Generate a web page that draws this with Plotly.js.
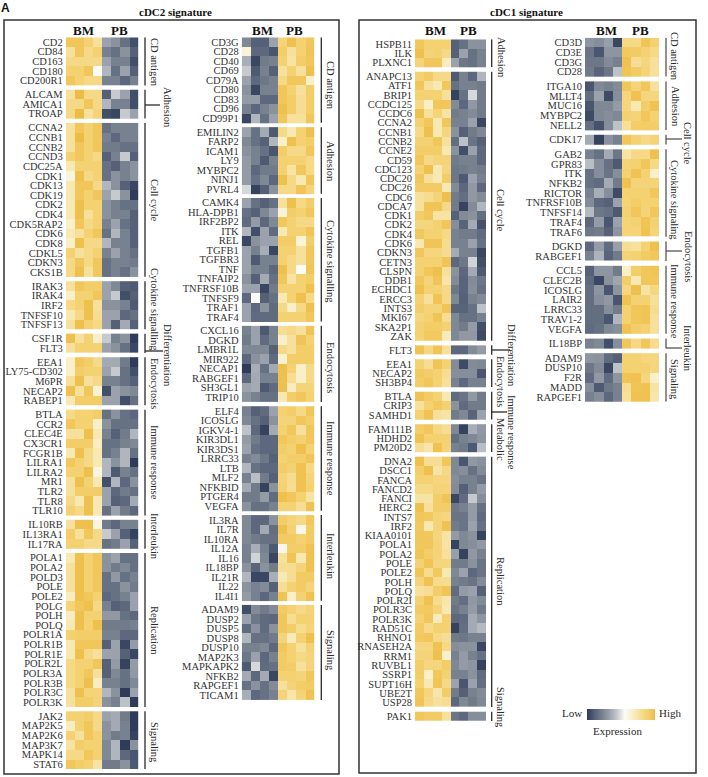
<!DOCTYPE html>
<html><head><meta charset="utf-8">
<script src="https://cdn.plot.ly/plotly-3.0.1.min.js"></script>
<style>html,body{margin:0;padding:0;background:#fff}#c{width:708px;height:777px}</style>
</head><body><div id="c"></div><script>
// ---------- cDC2, first column ----------
const a1Genes=["CD2","CD84","CD163","CD180","CD200R1"];
const a1Z=[[3.5,3.5,3,2,-2,-2.5,-3.5,-4.5],[2,3.5,2.5,3,-3,-3.5,-2.5,-4],[2.5,2.5,2.5,2.5,-2,-3,-3,-4.5],[3,3,3.5,0,-1.5,-3.5,-2,-4],[3.5,3,2.5,2.5,-3,-3,-3.8,-3]];
const a2Genes=["ALCAM","AMICA1","TROAP"];
const a2Z=[[2,4,2.5,2.5,-4,-1,-2,-4.5],[2.5,2.5,3.5,2.5,-1.5,-3,-3,-4.5],[2.5,4,2,2.8,-4.5,-4.7,-1,-2]];
const a3Genes=["CCNA2","CCNB1","CCNB2","CCND3","CDC25A","CDK1","CDK13","CDK19","CDK2","CDK4","CDK5RAP2","CDK6","CDK8","CDKL5","CDKN3","CKS1B"];
const a3Z=[[2,3.5,3,3.5,-3.5,-3,-3,-3],[2,4,3,3.5,-3,-3.8,-3,-3],[2,3.5,3,3.5,-3.2,-3.2,-3.5,-3.5],[3,3.5,3,2.5,-4,-3,-1,-4],[1.5,3,3,3,-3.5,-4,-3,-2.5],[.5,3.8,2.5,3,-3.5,-2.5,-3,-2.5],[1.5,3.5,3.5,2.5,-1.5,-2.5,-4,-4.7],[1.5,3.5,3,3.5,-2,-1,-2.5,-5],[1.5,3.8,3,3,-2.5,-3,-3.5,-3.5],[1.5,3.8,2,3,-2.5,-3,-3,-4],[1,3.5,2.5,3,-3,-2,-3.5,-4],[1.5,2,3,3.5,-3.5,-1.5,-3,-4],[1,3.8,2.5,2.5,-1.5,-3,-3,-4],[3,2,2.5,3,-3,-2,-3,-3.5],[2.5,3.5,2.5,3.5,-3.5,-3,-3,-3.2],[2.5,3.8,2,3.5,-3.5,-3,-3.5,-2.5]];
const a4Genes=["IRAK3","IRAK4","IRF2","TNFSF10","TNFSF13"];
const a4Z=[[2,3.5,3.2,3.2,-2,-2.8,-4,-4.2],[1,3,3,3.5,-2,-1,-4.5,-4],[2.5,3,3.8,2,-2.5,-2.5,-3,-4.2],[1.5,2.5,3.8,2.2,-2,-2,-3.8,-3.5],[2,3.8,3,2.5,-2,-4,-1.8,-4]];
const a5Genes=["CSF1R","FLT3"];
const a5Z=[[3.8,2,3,1,-1,-3,-2.5,-5],[2,3,3,3,-2,-2.5,-3.5,-4.7]];
const a6Genes=["EEA1","LY75-CD302","M6PR","NECAP2","RABEP1"];
const a6Z=[[1,3.5,3.2,2.5,-1.8,-1.8,-3.2,-5],[1,3.2,3,3,-2,-1,-3.5,-4.5],[2,3.8,2,2.5,-3,-3,-3.5,-4],[3.8,2,3.5,.8,-4.5,-2,-2.5,-2.8],[1.5,3.2,3.2,3.2,-2,-2,-4.5,-3.5]];
const a7Genes=["BTLA","CCR2","CLEC4E","CX3CR1","FCGR1B","LILRA1","LILRA2","MR1","TLR2","TLR8","TLR10"];
const a7Z=[[2.5,3,3,3.2,-3.5,-2.5,-3.5,-3.8],[3.5,3,3,1,-2.5,-3.5,-3.5,-3.5],[2,2,3.8,1.5,-3,-4,-3.2,-1.5],[3.2,3.2,3.2,1.2,-3.5,-3.5,-3,-2.8],[1.5,3.8,2.5,1.5,-3.5,-3,-1.5,-3.5],[3.5,3,2.5,1.5,-1.5,-2.5,-1.5,-5],[3,3,3.8,.5,-1.5,-4.2,-3,-3.5],[2,3.8,3,1.5,-4.5,-1.5,-3.8,-2.5],[2,3.2,3.2,3.2,-2,-3.8,-3.2,-3.5],[2.5,1.5,3.8,1.5,-2,-4,-3.8,-1.8],[3,2.5,3.8,1.5,-3.5,-2,-3.2,-3.8]];
const a8Genes=["IL10RB","IL13RA1","IL17RA"];
const a8Z=[[2,3.8,3.8,.5,-3.2,-3.8,-3,-3],[3.2,2,3.5,2.5,-1,-2,-4,-4.8],[3,3,2.5,2.5,-3.5,-3.2,-2,-4]];
const a9Genes=["POLA1","POLA2","POLD3","POLE","POLE2","POLG","POLH","POLQ","POLR1A","POLR1B","POLR1E","POLR2L","POLR3A","POLR3B","POLR3C","POLR3K"];
const a9Z=[[1.5,3.8,3,3.5,-2.5,-2,-3.5,-3.5],[2,3.8,3,3.5,-2.5,-3.2,-2.8,-3.5],[2,3.8,3,3.5,-3.5,-2.3,-3.5,-3],[2,3.8,3,3.5,-3.5,-3.5,-2.5,-3.2],[1.2,3.8,3.5,3,-3.8,-3.5,-3,-2],[2.8,3.5,3.8,2.5,-3,-4,-3.8,-2],[1.2,3.8,3,3,-2.3,-2.3,-3.5,-3.8],[1.5,3.8,3,3.8,-3.2,-3.2,-3.2,-3],[3,3.2,3.2,3.2,-3,-3,-3.8,-3.8],[1.5,3.5,3.5,3.5,-4,-2,-4.7,-2.2],[1.5,3.8,2.5,2,-2,-2,-4,-4.7],[2.5,3,3,3.5,-4,-2.2,-4.8,-2.2],[2.5,3,3.5,2,-4,-2.8,-3.5,-2.3],[2.5,3,3.8,1.2,-3,-3,-3.5,-2.8],[2,3.8,2.8,2.8,-1.5,-2.5,-5,-2],[2,3.2,3.2,2.8,-2.5,-3,-1.2,-5]];
const a10Genes=["JAK2","MAP2K5","MAP2K6","MAP3K7","MAPK14","STAT6"];
const a10Z=[[3,3,3.2,2.5,-2,-1.8,-3.2,-5],[1.2,3,3.5,2.5,-2.5,-1.8,-3,-5],[3,2,3.5,3,-2.5,-3.2,-3,-4.8],[1.8,3.2,3,3,-2.8,-1.5,-5,-2.5],[2.5,2.5,3.5,3,-2.8,-1.5,-3.8,-4.3],[3.5,3.2,3,1.8,-3.2,-3.2,-2.5,-4.2]];
// ---------- cDC2, second column ----------
const b1Genes=["CD3G","CD28","CD40","CD69","CD79A","CD80","CD83","CD96","CD99P1"];
const b1Z=[[-2.8,-4,-4,-2,2.8,3.8,3,3.5],[.7,-3.8,-3.8,-4.3,3.2,2,3,3.6],[-1.7,-4.7,-3.2,-3,3,1.8,3.2,3.5],[-1,-4.2,-3,-4,2,3,2,3.8],[-2,-3.8,-3.3,-3,2.5,3.5,3.5,1],[-2.5,-4.7,-3,-3,3.5,3,2,3.2],[-2.2,-2.2,-3.8,-3.8,3.5,3.2,2.2,3.2],[-3,-3.8,-3,-2.5,3.8,3.2,2.2,3.2],[-4.7,-1.5,-3.5,-2,3.5,2,2,3.5]];
const b2Genes=["EMILIN2","FARP2","ICAM1","LY9","MYBPC2","NINJ1","PVRL4"];
const b2Z=[[-2,-3.5,-1.8,-4.2,2.5,1.5,3,3.8],[-2.8,-3.5,-4,-1.5,1,3.8,3,3.2],[-2.5,-3,-3.5,-4.3,3.2,2.5,2.5,3.5],[-2.2,-3,-4.2,-3,3,3,3,2.5],[-2.2,-3.8,-3.2,-3.2,3,1.8,3.5,2.5],[-2.2,-3.5,-2.8,-3.8,3.8,2.5,1.5,3.5],[-.7,-4.8,-4,-2.5,2.5,2.5,3.6,2.8]];
const b3Genes=["CAMK4","HLA-DPB1","IRF2BP2","ITK","REL","TGFB1","TGFBR3","TNF","TNFAIP2","TNFRSF10B","TNFSF9","TRAF1","TRAF4"];
const b3Z=[[-2,-3.5,-4,-3.5,2,3.8,2.5,3.2],[-3.5,-4,-2.8,-2,.7,3.2,3,3.5],[-3.7,-2.2,-3.8,-2.8,3.5,3,2.5,2.5],[-1.5,-4.5,-2,-3.7,1.5,3,3,3.6],[-4.7,-2.5,-2,-2,3.2,3.2,.7,3.2],[-2,-3,-1.7,-4.7,3,3,2,3.5],[-2,-4.2,-3,-3,3,2.5,2,3.5],[-2,-3,-3,-3.8,3.8,2.5,0,3.6],[-2.5,-4,-1.8,-3.5,3.5,1.8,3,3.2],[-2,-2,-4.7,-3.2,3,3,3,3.8],[-3.8,0,-4,-3.5,1.5,3,3.8,2.5],[-2,-3.8,-2.5,-3.7,2.5,1,2.5,3.8],[-2,-3.7,-3.7,-3.7,3,3,3,3.5]];
const b4Genes=["CXCL16","DGKD","LMBR1L","MIR922","NECAP1","RABGEF1","SH3GL1","TRIP10"];
const b4Z=[[-3,-2,-4.2,-3,2.2,2.5,2,3.6],[-3.2,-2,-3.7,-3,1,2,3.6,3],[-2.8,-2.8,-2.8,-4,2.5,2,3.2,3.2],[-3.8,-2.5,-2,-3.7,.8,3.2,3.2,3.2],[-5,-1.7,-3.5,-1.8,3.8,3,1,2.5],[-3.8,-1.8,-3,-3,3.8,2.2,1,2.5],[-2,-1.8,-4.2,-3.7,3.8,1.2,2.8,2.8],[-2.5,-3,-3.5,-3.5,1.5,3.2,3.5,3]];
const b5Genes=["ELF4","ICOSLG","IGKV4-1","KIR3DL1","KIR3DS1","LRRC33","LTB","MLF2","NFKBID","PTGER4","VEGFA"];
const b5Z=[[-3,-4,-3.7,-2,3,3.2,2.5,3.5],[-2.8,-3.5,-4,-2.5,2.8,2.8,3.5,3.2],[-1.2,-3.8,-4.8,-1.8,3,3.5,2,3.5],[-2.2,-3.2,-3.8,-3.8,3.5,3.2,3,3.5],[-2,-3.5,-3.8,-3.8,3.2,3,3.8,3],[-3,-2.7,-3.3,-4,3,3.2,3.2,3.6],[-1.5,-3.5,-3.8,-3.8,3.2,3,3.7,2.5],[-3,-1.3,-3.2,-4,2.8,2.3,3.7,2.8],[-1.8,-3.2,-4.8,-2.5,3,2.2,3.7,3],[-3.2,-3.2,-2.2,-3.7,3.8,3.5,3,1.8],[-2.5,-3.5,-3.5,-3,3,3,2.2,3.7]];
const b6Genes=["IL3RA","IL7R","IL10RA","IL12A","IL16","IL18BP","IL21R","IL22","IL4I1"];
const b6Z=[[-2.8,-3.8,-3.8,-2.5,3.2,2.8,2.5,3.5],[-2.8,-3.8,-1.8,-3.6,3.8,3,.3,3.3],[-2.8,-3.2,-3.5,-3.5,3.3,3.3,3,3.3],[-3,-1.7,-3,-4.2,.3,3.2,3.2,3.7],[-3,-.8,-2.8,-4.7,2,3.6,1.5,3.7],[-2.5,-3.9,-2.5,-3.2,2.2,2.2,2.8,3.7],[-1.5,-4.7,-4.7,-1.7,1.5,2.2,3.3,3.3],[-2.5,-3,-2.7,-4,2.2,3,3.3,2.8],[-2.2,-3,-3.8,-3,3.7,1,3,3.7]];
const b7Genes=["ADAM9","DUSP2","DUSP5","DUSP8","DUSP10","MAP2K3","MAPKAPK2","NFKB2","RAPGEF1","TICAM1"];
const b7Z=[[-4.5,-2.7,-3.2,-2.7,3.3,3,2.5,2.8],[-2,-3.3,-3.7,-3.8,3.5,2.2,3,3],[-3.7,-2.5,-3.7,-2.5,3.5,3.2,2.3,2.8],[-1.5,-3.5,-3.5,-3.2,2.8,1.3,3,3.8],[-3,-3,-2.8,-3.8,3.5,3,2,3],[-3.3,-2,-3.8,-3,3.3,3,2.5,2.8],[-4.2,-.7,-3.7,-3.5,3.3,3.2,2,2.8],[-1.8,-3.8,-1.8,-4.7,3,3,2.8,3.5],[-3.5,-2.5,-3.5,-2.7,2,2.8,3.2,3.3],[-1.7,-3.8,-3.5,-3,2.8,1.7,2.8,3.7]];
// ---------- cDC1, first column ----------
const c1Genes=["HSPB11","ILK","PLXNC1"];
const c1Z=[[3.5,3,3,3,-4,-3.5,-2.5,-2.5],[3.8,2.8,3,2.5,-4,-2,-3.5,-3],[2.8,3.5,3.5,1.2,-2,-3.3,-3.5,-3]];
const c2Genes=["ANAPC13","ATF1","BRIP1","CCDC125","CCDC6","CCNA2","CCNB1","CCNB2","CCNE2","CD59","CDC123","CDC20","CDC26","CDC6","CDCA7","CDK1","CDK2","CDK4","CDK6","CDKN3","CETN3","CLSPN","DDB1","ECHDC1","ERCC3","INTS3","MKI67","SKA2P1","ZAK"];
const c2Z=[[3,3.3,2.5,2.5,-4.2,-3,-3.8,-1.5],[3.5,2,1.5,3.5,-3.5,-3,-3,-3.2],[3,3,3,2,-4.8,-3.5,-.7,-3.2],[2.5,1,3.5,3.5,-2.7,-3.8,-2.3,-3.2],[3.8,2,2.8,1.8,-3.2,-3,-2.7,-3.2],[3,3.5,1.5,3.5,-3,-3,-2,-4.7],[2.5,3.8,1.5,2.7,-2.5,-4,-3.2,-2.8],[3,3,3.5,2,-3.6,-1.2,-3.4,-4],[3.2,3.2,3.2,1.5,-2.5,-4.5,-2,-3.8],[3.5,2.5,2.8,2.8,-3.2,-3,-3,-3.8],[3,3.8,1.5,2.7,-3.3,-3.2,-3,-3.2],[3.5,2,1.5,3.2,-3.3,-4.2,-2,-3],[3.3,3.3,3.3,1.5,-2.7,-3.8,-2.3,-3.8],[2,2.3,2.8,3.8,-3.2,-3.6,-2.3,-2.7],[2,3.6,3.6,2.5,-3.2,-4.8,-2.7,-1.5],[3.2,3.5,1.8,1.8,-4,-2.7,-2.5,-3.6],[2.7,2.7,3,3.5,-2.6,-3.9,-1.8,-4.4],[3.5,3,3,2.5,-3,-3.2,-3.2,-3.7],[1.5,3.6,3.6,2.3,-3,-3,-2,-3.5],[3.5,2.7,2.7,2.3,-1.8,-3,-3,-4.7],[3,3,3,3.6,-3.8,-3.3,-.8,-4.5],[3,3.5,3.8,2,-2.5,-3.8,-1.8,-4.2],[3.5,2.8,3.6,1.7,-2.7,-3.9,-2.7,-3.3],[3.8,3,3,2.5,-3.3,-3.9,-2.6,-3.5],[3,2,3.6,2.5,-2.8,-4,-3,-2.7],[3.2,2.8,2.8,3.6,-3.9,-3.9,-3.5,-1.2],[2.7,3,3.6,2.2,-2.8,-3.5,-3.5,-3],[3,3.2,3.2,3,-2.8,-3.2,-2.2,-4.5],[3,3.4,3.4,1.3,-2.8,-2.3,-2.3,-4.6]];
const c3Genes=["FLT3"];
const c3Z=[[3.7,2.6,3.6,2,-3.8,-3.8,-2.7,-2.2]];
const c4Genes=["EEA1","NECAP2","SH3BP4"];
const c4Z=[[3,2.2,3.6,3,-2.7,-4.6,-2.7,-2.8],[3.4,3.2,3,2.2,-2.6,-2.6,-2.6,-4.3],[3.2,3.5,3,2,-3,-3.8,-3,-3]];
const c5Genes=["BTLA","CRIP3","SAMHD1"];
const c5Z=[[3.7,3.3,3,1.5,-3.7,-3.4,-2.3,-3.2],[2,3,3.4,3,-2.5,-3.7,-3.2,-3.2],[3,3.7,2,1.8,-3.2,-2.8,-3.9,-2]];
const c6Genes=["FAM111B","HDHD2","PM20D2"];
const c6Z=[[3.2,3.5,2.6,2.2,-2.8,-4.8,-1.7,-2.3],[3.7,3,3,3,-3.6,-3,-2.8,-2.4],[2.2,1.7,3.7,2.8,-3,-3.2,-4.2,-1.3]];
const c7Genes=["DNA2","DSCC1","FANCA","FANCD2","FANCI","HERC2","INTS7","IRF2","KIAA0101","POLA1","POLA2","POLE","POLE2","POLH","POLQ","POLR2I","POLR3C","POLR3K","RAD51C","RHNO1","RNASEH2A","RRM1","RUVBL1","SSRP1","SUPT16H","UBE2T","USP28"];
const c7Z=[[3.8,2.2,2.2,3.5,-2.8,-4.3,-2.3,-2.5],[3.2,3.8,1.8,2.5,-2.8,-2.6,-3.5,-2.7],[3,3,2.7,2.7,-2.6,-3,-3,-3.4],[2.5,2.5,2.8,2.8,-2.7,-4,-3,-2.2],[1.8,1.8,3.2,3.6,-4.7,-3.7,-1,-2.6],[3.8,2,3.2,3.2,-3.3,-3,-2.2,-3.5],[3.5,3.4,2.8,2.7,-3.4,-3.4,-2.2,-3.7],[3.4,1.5,2.8,3.7,-3.2,-3.4,-2,-3.5],[3.5,3.5,2.7,1.8,-2.2,-2.8,-2.5,-4.8],[3.5,3.5,2.8,1.8,-4.8,-2.8,-2.6,-2.3],[3.6,3.2,2.8,2,-2.1,-4.8,-2.3,-3],[3,3.6,2.7,2.7,-3.2,-3.2,-2.5,-3.4],[3.6,2.3,3.4,1.5,-2.8,-2,-3.8,-3.4],[2.8,3.7,2.3,2.3,-3,-3.2,-3.4,-2.7],[2,2.2,3.2,3.6,-3.7,-2.2,-2,-4],[3,3.7,2.3,1.7,-3.2,-3.6,-2.3,-2.7],[3.3,3.4,2.8,1.5,-3.4,-3,-2.2,-3.2],[3,3.5,1.3,3,-3.8,-3.7,-1.8,-2.4],[3.3,2.4,3,3,-4.8,-3.6,-1.8,-1.4],[3.4,3.5,2.5,2.2,-3.2,-3.3,-3,-3],[2.7,2.7,3.7,2.5,-2.6,-2.5,-2.5,-4.7],[2.8,2.8,3.8,1,-3,-2.2,-3,-3.5],[3.2,2.7,2.7,3.2,-2.8,-2.2,-2.4,-4.8],[3.2,1,3.5,3,-3,-3,-2.5,-3.7],[3,1.5,3.6,2.5,-2,-4.3,-2,-3.6],[3.5,2.7,1.7,3.2,-3.2,-4,-3,-2.7],[3.6,2.5,2,2.2,-3.8,-2.8,-3.2,-2.8]];
const c8Genes=["PAK1"];
const c8Z=[[3.5,3.3,3.3,2,-3.4,-3.8,-2.6,-2.6]];
// ---------- cDC1, second column ----------
const d1Genes=["CD3D","CD3E","CD3G","CD28"];
const d1Z=[[-2.4,-2.6,-2.1,-4.7,2.5,2.5,3.6,3],[-3.4,-4.3,-2.4,-2.4,3.4,3.3,3,2.5],[-3.3,-3.3,-2.7,-3,3.7,2.2,2.7,2],[-3.2,-3.9,-3.3,-1.2,3.6,3.3,2.8,2]];
const d2Genes=["ITGA10","MLLT4","MUC16","MYBPC2","NELL2"];
const d2Z=[[-4.3,-2.8,-3,-2.7,3.5,2.8,3.5,2],[-3.6,-2,-4.6,-2.6,2.7,3.7,2.7,2.7],[-4.3,-2.8,-2.8,-2.2,2.7,1.5,3.2,3.7],[-4.6,-2.8,-2.6,-2.8,3,2.8,3.5,3],[-3.6,-4.4,-2.6,-1.2,2,3.2,3.2,3.2]];
const d3Genes=["CDK17"];
const d3Z=[[-1.8,-4.8,-2.5,-3,3.5,3,2.5,2.8]];
const d4Genes=["GAB2","GPR83","ITK","NFKB2","RICTOR","TNFRSF10B","TNFSF14","TRAF4","TRAF6"];
const d4Z=[[-3,-3.5,-1.8,-3.3,1.8,2.5,2.5,3.8],[-1.3,-2.6,-3.5,-4.2,2.8,3,3.5,2.5],[-3.5,-2.6,-3.4,-2.6,3,3.7,3,1],[-3.5,-3.7,-1.8,-3.2,3.7,2.8,2.8,2.8],[-3,-1.7,-2.6,-4.6,3,3,3,3.5],[-2.7,-3.8,-4,-2,2.8,3.2,3,3],[-1.4,-3.3,-3.5,-4.2,3,3.5,2.8,3.5],[-3.8,-2.2,-4.3,-2,2.8,3,3.6,3],[-3.3,-3.2,-4,-2.4,2.8,2.8,3.7,2.8]];
const d5Genes=["DGKD","RABGEF1"];
const d5Z=[[-3.8,-2.2,-3.7,-2.1,2.2,2,3,3.8],[-3,-1.6,-3.9,-3.2,2.8,3,3.3,3.5]];
const d6Genes=["CCL5","CLEC2B","ICOSLG","LAIR2","LRRC33","TRAV1-2","VEGFA"];
const d6Z=[[-4,-2.4,-2.4,-3.2,1,3.2,3.5,3.6],[-3.8,-4.7,-2.5,-1.9,3.2,1.5,3.5,3.5],[-3.6,-2.4,-4.3,-2.4,2.6,3.8,1.8,2.6],[-3.6,-2.6,-2.3,-4.3,3.7,3,3,2],[-3.6,-3.6,-2.6,-3.2,3,3.5,3.6,2.3],[-3.6,-3.6,-4.3,-1.5,3,3.5,3.6,2],[-3.7,-3.5,-2.8,-2.6,3.7,3.2,3,2]];
const d7Genes=["IL18BP"];
const d7Z=[[-3,-2.8,-4.5,-2.6,3.5,2.5,3.5,2.3]];
const d8Genes=["ADAM9","DUSP10","F2R","MADD","RAPGEF1"];
const d8Z=[[-2.4,-2.5,-3.7,-4,3,3,2.7,2.7],[-3.3,-2.7,-4.7,-1.2,3,3,3,2.7],[-3.7,-2.3,-3.7,-2.4,3.6,3.7,2.7,1],[-2.6,-4.2,-3.3,-3,2.2,3.6,3.7,1.8],[-3,-2.6,-3.8,-3,2,3.7,3.7,1.6]];

const W=708,H=777;
const px=v=>v/W, py=v=>1-v/H;
const FONT='"Liberation Serif","Times New Roman",serif';

const blocks=[
 {x:[65.7,138.3],y:[37.3,769],gap:.45,bx:145,labelCol:{BM:83,PB:119},lineColor:'#2a2a2a',groups:[
  ["CD antigen",a1Genes,a1Z,155,62],["Adhesion",a2Genes,a2Z,168,107,[160,105]],["Cell cycle",a3Genes,a3Z,155,200],
  ["Cytokine signalling",a4Genes,a4Z,155,309],["Differentiation",a5Genes,a5Z,168,355,[163,351]],["Endocytosis",a6Genes,a6Z,155,383],
  ["Immune response",a7Genes,a7Z,155,462],["Interleukin",a8Genes,a8Z,155,536],["Replication",a9Genes,a9Z,155,630],["Signaling",a10Genes,a10Z,155,742]]},
 {x:[241.7,314.3],y:[37.3,700],gap:.45,bx:321.3,labelCol:{BM:262,PB:294},lineColor:'#2a2a2a',groups:[
  ["CD antigen",b1Genes,b1Z,331,85],["Adhesion",b2Genes,b2Z,331,161],["Cytokine signalling",b3Genes,b3Z,331,261],
  ["Endocytosis",b4Genes,b4Z,331,367],["Immune response",b5Genes,b5Z,331,458],["Interleukin",b6Genes,b6Z,331,556],["Signaling",b7Genes,b7Z,331,650]]},
 {x:[415,486],y:[39.3,721],gap:.5,bx:491.7,labelCol:{BM:435,PB:468},lineColor:'#2a2a2a',groups:[
  ["Adhesion",c1Genes,c1Z,501,57],["Cell cycle",c2Genes,c2Z,501,210],["Differentiation",c3Genes,c3Z,512,355,[510,350]],
  ["Endocytosis",c4Genes,c4Z,501,381],["Immune response",c5Genes,c5Z,512,432,[507,412]],["Metabolic",c6Genes,c6Z,501,439],
  ["Replication",c7Genes,c7Z,501,581],["Signaling",c8Genes,c8Z,501,707]]},
 {x:[585,659],y:[37.7,401.7],gap:.5,bx:666,labelCol:{BM:606,PB:640},lineColor:'#555',groups:[
  ["CD antigen",d1Genes,d1Z,675,56],["Adhesion",d2Genes,d2Z,675,106],["Cell cycle",d3Genes,d3Z,688,143,[682,139]],
  ["Cytokine signaling",d4Genes,d4Z,675,200],["Endocytosis",d5Genes,d5Z,688,256,[682,251]],["Immune response",d6Genes,d6Z,675,301],
  ["Interleukin",d7Genes,d7Z,688,348,[682,348]],["Signaling",d8Genes,d8Z,675,379]]}
];

const traces=[],shapes=[],annotations=[];
const layout={width:W,height:H,margin:{l:0,r:0,t:0,b:0,pad:0},paper_bgcolor:'#fff',plot_bgcolor:'#fff',showlegend:false,
 coloraxis:{cmin:-5,cmax:4,colorscale:[[0,'#2e3c59'],[1/9,'#566178'],[2/9,'#78818f'],[3/9,'#9ba2ad'],[4/9,'#c6cacf'],[5/9,'#fbfbf8'],[6/9,'#f9efc9'],[7/9,'#f7e09b'],[8/9,'#f4d171'],[1,'#edbc45']],
  colorbar:{orientation:'h',lenmode:'pixels',len:68,thickness:11,thicknessmode:'pixels',x:px(586.5),xanchor:'left',y:py(719.5),yanchor:'bottom',xpad:0,ypad:0,outlinewidth:0,showticklabels:false,ticks:'',title:{text:''}}}};

function addText(text,x,y,size,opts){annotations.push(Object.assign({text,xref:'paper',yref:'paper',x:px(x),y:py(y),showarrow:false,xanchor:'center',yanchor:'middle',font:{family:FONT,size,color:'#2a2a2a'}},opts||{}));}

blocks.forEach((b,i)=>{
 const n=i+1, xa=n===1?'xaxis':'xaxis'+n, ya=n===1?'yaxis':'yaxis'+n, xr='x'+(n===1?'':n), yr='y'+(n===1?'':n);
 let off=0; const tv=[],tt=[];
 b.groups.forEach(g=>{
  const genes=g[1];
  traces.push({type:'heatmap',z:g[2],x0:0,dx:1,y0:off,dy:1,xaxis:xr,yaxis:yr,coloraxis:'coloraxis',xgap:0,ygap:0,hoverongaps:false,name:g[0],text:genes});
  genes.forEach((s,k)=>{tv.push(off+k);tt.push(s);});
  g.top=off-.5; g.bottom=off+genes.length-.5;
  off+=genes.length+b.gap;
 });
 const total=off-b.gap;
 layout[xa]={domain:[px(b.x[0]),px(b.x[1])],range:[-.5,7.5],showgrid:false,zeroline:false,showticklabels:false,ticks:'',showline:false,anchor:yr,fixedrange:true};
 layout[ya]={domain:[py(b.y[1]),py(b.y[0])],range:[total-.5,-.5],showgrid:false,zeroline:false,showline:false,ticks:'',anchor:xr,tickmode:'array',tickvals:tv,ticktext:tt,ticklabelstandoff:2,
  tickfont:{family:FONT,size:10.5,color:'#333'},automargin:false,fixedrange:true};
 b.groups.forEach(g=>{
  shapes.push({type:'line',xref:'paper',yref:yr,x0:px(b.bx),x1:px(b.bx),y0:g.top,y1:g.bottom,line:{color:b.lineColor,width:1.3}});
  addText(g[0],g[3],g[4],10.5,{textangle:90});
  if(g[5])shapes.push({type:'line',xref:'paper',yref:'paper',x0:px(b.bx),x1:px(g[5][0]),y0:py(g[5][1]),y1:py(g[5][1]),line:{color:b.lineColor,width:1.3}});
 });
 addText('BM',b.labelCol.BM,30,13,{font:{family:FONT,size:13,color:'#111',weight:700}});
 addText('PB',b.labelCol.PB,30,13,{font:{family:FONT,size:13,color:'#111',weight:700}});
});

[[4,20,339,774],[359,20,696,773]].forEach(r=>shapes.push({type:'rect',xref:'paper',yref:'paper',x0:px(r[0]),x1:px(r[2]),y0:py(r[1]),y1:py(r[3]),line:{color:'#333',width:1.5},fillcolor:'rgba(0,0,0,0)'}));
addText('cDC2 signature',175,12,11,{font:{family:FONT,size:11,color:'#111',weight:700}});
addText('cDC1 signature',526,12,11,{font:{family:FONT,size:11,color:'#111',weight:700}});
addText('A',5.5,8,12,{font:{family:'"Liberation Sans",Arial,sans-serif',size:12,color:'#111',weight:700}});
addText('Low',572,713,11);
addText('High',670,713,11);
addText('Expression',617,731,11);

layout.shapes=shapes;layout.annotations=annotations;
Plotly.newPlot('c',traces,layout,{displayModeBar:false,staticPlot:true});
</script></body></html>
